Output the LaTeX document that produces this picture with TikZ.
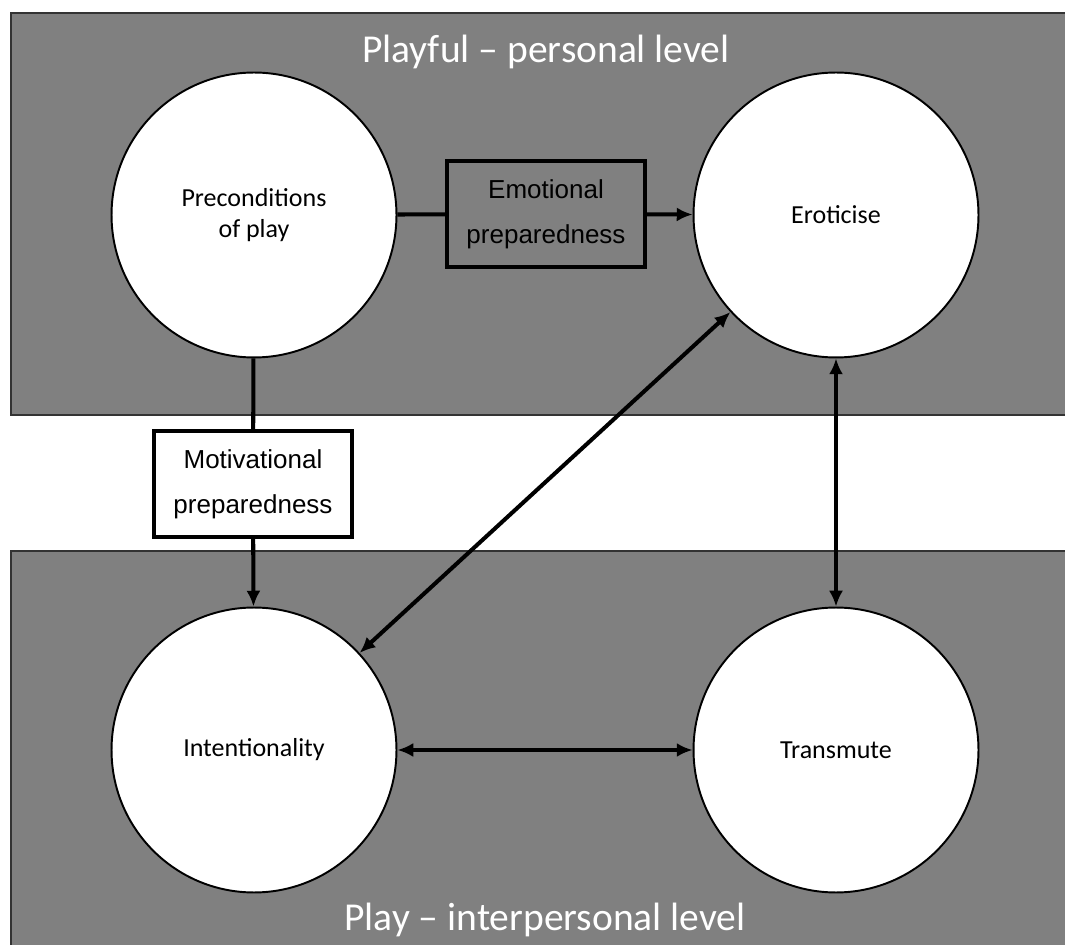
\documentclass[tikz,border=0pt]{standalone}
\usepackage{fontspec}
\setmainfont{Carlito}
\newfontfamily\boxfont{Liberation Sans}
\usetikzlibrary{arrows.meta,positioning}
\tikzset{>={Latex[length=9pt,width=8pt]}}
\definecolor{bandgray}{RGB}{128,128,128}

\begin{document}
\begin{tikzpicture}[x=0.02cm,y=-0.02cm,
    band/.style={fill=bandgray, draw=black!80, line width=1.2pt},
    stage/.style={circle, draw, fill=white, line width=1.1pt, minimum size=5.7cm, inner sep=0pt, align=center, font=\fontsize{14.8}{17.6}\selectfont},
    prep/.style={draw, line width=2.3pt, minimum width=3.96cm, minimum height=2.12cm, align=center, font=\boxfont\fontsize{14.8}{25.6}\selectfont},
    link/.style={line width=2.3pt},
    level/.style={text=white, anchor=base, font=\fontsize{22.5}{27}\selectfont}]
    \useasboundingbox (0,0) rectangle (1065,945);
    % the two levels
    \draw [band] (11,13) rectangle (1080,415);
    \draw [band] (11,551) rectangle (1080,960);
    \node [level] (personal) at (546,63) {Playful -- personal level};
    \node [level] (interpersonal) at (545,930) {Play -- interpersonal level};
    % stages
    \node [stage] (pre) at (254,215) {Preconditions\\of play};
    \node [stage] (ero) at (836,215) {Eroticise};
    \node [stage] (int) at (254,750) {Intentionality};
    \node [stage] (tra) at (836,750) {Transmute};
    % preparedness
    \node [prep, fill=bandgray] (emo) at (546,214) {Emotional\\preparedness};
    \node [prep, fill=white] (mot) at (253,484) {Motivational\\preparedness};
    \draw [link] (pre) -- (emo);
    \draw [link,->] (emo) -- (ero);
    \draw [link] (pre) -- (mot);
    \draw [link,->] (mot) -- (int);
    \draw [link,<->] (ero) -- (int);
    \draw [link,<->] (ero) -- (tra);
    \draw [link,<->] (int) -- (tra);
\end{tikzpicture}
\end{document}
